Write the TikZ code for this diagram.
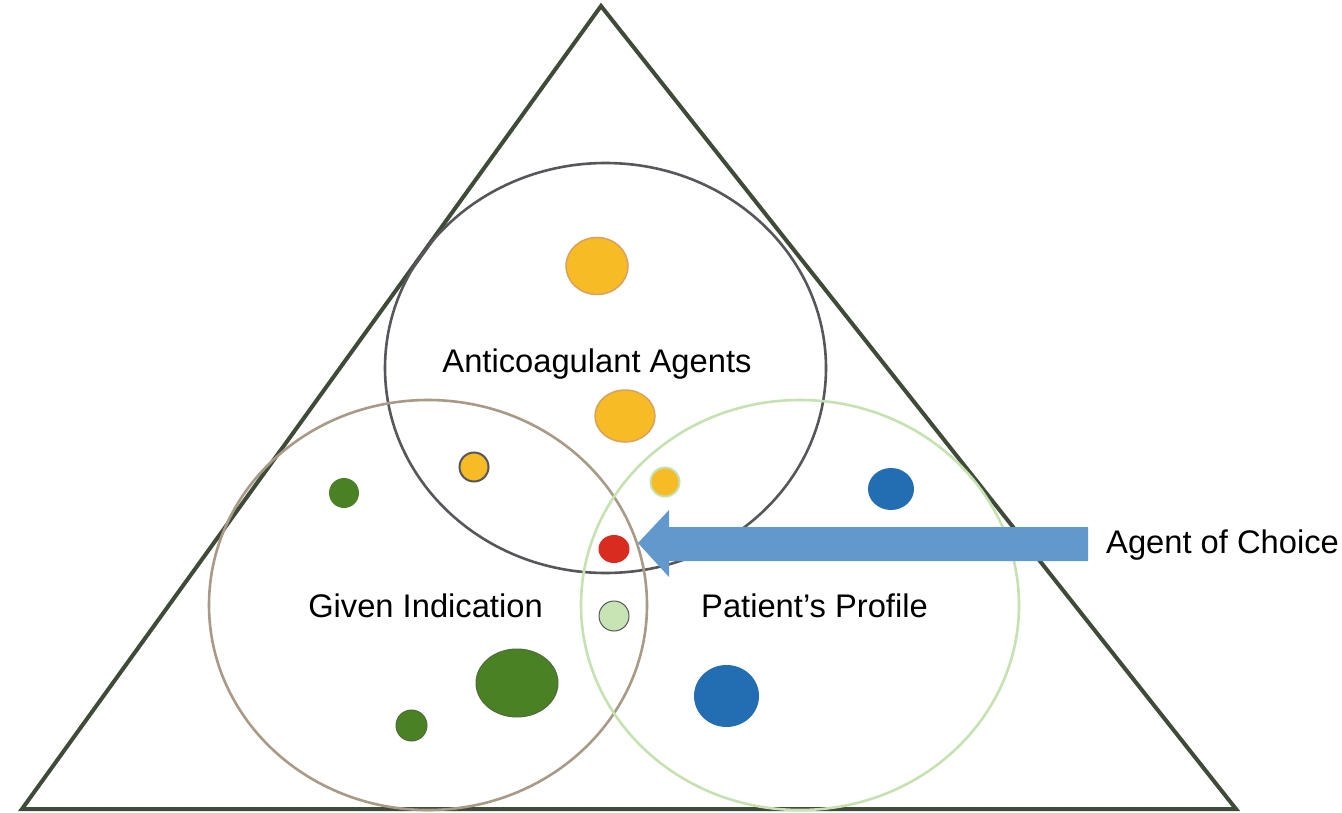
\documentclass[tikz,border=0pt]{standalone}
\usepackage{fontspec}
\setmainfont{Liberation Sans}
\usetikzlibrary{shapes.geometric}
\definecolor{tri}{HTML}{3F4B38}
\definecolor{ringA}{HTML}{55575A}
\definecolor{ringB}{HTML}{A89A86}
\definecolor{ringC}{HTML}{C6E2B0}
\definecolor{gold}{HTML}{F6BB25}
\definecolor{goldline}{HTML}{D9A25E}
\definecolor{leaf}{HTML}{4A8124}
\definecolor{leafline}{HTML}{4F6B3A}
\definecolor{sea}{HTML}{236DB3}
\definecolor{redd}{HTML}{D92B1F}
\definecolor{pale}{HTML}{C8E4B4}
\definecolor{arrowc}{HTML}{6298CC}
\tikzset{
  ring/.style={line width=2.6pt},
  dot/.style={line width=1.5pt},
  lbl/.style={font=\fontsize{32.7}{38}\selectfont, inner sep=0pt, anchor=base}
}
\begin{document}
\begin{tikzpicture}[x=1pt,y=-1pt]
\useasboundingbox (0,0) rectangle (1342,813);
\fill[white] (0,0) rectangle (1342,813);
% triangle
\draw[tri, line width=4pt, line join=miter] (601,6) -- (1236,809) -- (22,809) -- cycle;
% rings
\draw[ring, ringA] (605.5,368) ellipse [x radius=220.5, y radius=205];
\draw[ring, ringB] (428,605) ellipse [x radius=219, y radius=205];
\draw[ring, ringC] (800,605) ellipse [x radius=219, y radius=205];
% dots
\node[draw=goldline, fill=gold, dot, ellipse, minimum width=62, minimum height=57, inner sep=0] (d1) at (597,266) {};
\node[draw=goldline, fill=gold, dot, ellipse, minimum width=60, minimum height=52, inner sep=0] (d2) at (625,416) {};
\node[draw=ringA, fill=gold, line width=2pt, circle, minimum size=29, inner sep=0] (d3) at (474,467) {};
\node[draw=ringC, fill=gold, line width=2pt, circle, minimum size=29, inner sep=0] (d4) at (665,482) {};
\node[fill=sea, ellipse, minimum width=46, minimum height=42, inner sep=0] (d5) at (891,489) {};
\node[fill=leaf, circle, minimum size=30, inner sep=0] (d6) at (344,493) {};
\node[fill=redd, ellipse, minimum width=31, minimum height=28, inner sep=0] (d7) at (614,549) {};
\node[draw=ringA, fill=pale, line width=1pt, circle, minimum size=30, inner sep=0] (d8) at (614,616) {};
\node[draw=leafline, fill=leaf, line width=1pt, ellipse, minimum width=82, minimum height=68, inner sep=0] (d9) at (517,683) {};
\node[draw=leafline, fill=leaf, line width=1pt, circle, minimum size=31, inner sep=0] (d10) at (411.5,725.5) {};
\node[fill=sea, ellipse, minimum width=65, minimum height=62, inner sep=0] (d11) at (726.5,696) {};
% labels
\node[lbl] (tA) at (597,372) {Anticoagulant Agents};
\node[lbl] (tB) at (425.5,617) {Given Indication};
\node[lbl] (tC) at (814.5,617) {Patient’s Profile};
\node[lbl, anchor=base west] (tD) at (1106,553) {Agent of Choice};
% arrow
\coordinate (tip) at (638,543);
\fill[arrowc] (1088,527) -- (669,527) -- (669,510) -- (tip) -- (669,577) -- (669,561) -- (1088,561) -- cycle;
\end{tikzpicture}
\end{document}
